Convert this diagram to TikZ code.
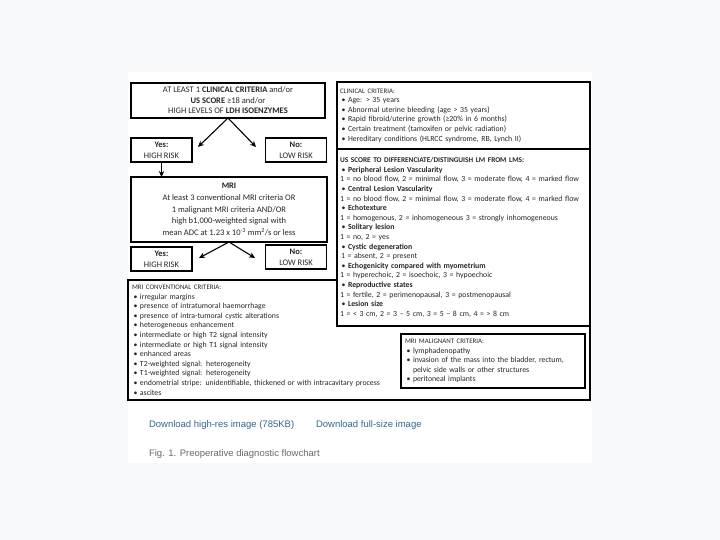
\documentclass[tikz,border=0pt]{standalone}
\usepackage{fontspec}
\setmainfont{Carlito}
\newfontfamily\webfont{Liberation Sans}
\usetikzlibrary{arrows.meta}
\definecolor{linkblue}{HTML}{2F6A8C}
\definecolor{captgray}{HTML}{6A6A6A}
\definecolor{pagegray}{HTML}{F8F9FA}
\newcommand{\itm}{\makebox[8pt][l]{\hspace{1.5pt}\textbullet}}
\newcommand{\hd}[1]{{\fontsize{6.9}{9.6}\selectfont #1}}

\begin{document}
\begin{tikzpicture}[x=1pt,y=-1pt,
  every node/.style={font=\fontsize{7.8}{9.6}\selectfont,text=black!85,outer sep=0pt},
  mainbox/.style={draw,line width=1.3pt,align=center,inner sep=2pt},
  riskbox/.style={draw,line width=1.1pt,minimum width=61pt,minimum height=24pt,align=center,inner sep=1pt,font=\fontsize{8.5}{11}\selectfont},
  listbox/.style={draw,line width=1.5pt,fill=white,align=left,anchor=north west,inner sep=3pt},
  flow/.style={-{Stealth[length=6pt,width=5.5pt]},line width=1.1pt},
  weblink/.style={anchor=base west,inner sep=0pt,text=linkblue,font=\webfont\fontsize{9.5}{11}\selectfont}]
\useasboundingbox (0,0) rectangle (720,540);
\fill[pagegray] (0,0) rectangle (720,540);
\fill[white] (128,72) rectangle (592,463);

\node[mainbox,minimum width=194pt,minimum height=35pt,font=\fontsize{8.5}{10.5}\selectfont] (crit) at (228,100.5)
  {AT LEAST 1 \textbf{CLINICAL CRITERIA} and/or\\ \textbf{US SCORE} ≥18 and/or\\ HIGH LEVELS OF \textbf{LDH ISOENZYMES}};
\node[riskbox] (yes1) at (161.5,150) {\textbf{Yes:}\\ HIGH RISK};
\node[riskbox] (no1) at (296,150) {\textbf{No:}\\ LOW RISK};
\node[mainbox,minimum width=196pt,minimum height=65pt,font=\fontsize{8.5}{11.7}\selectfont] (mri) at (229,209.5)
  {\textbf{MRI}\\ At least 3 conventional MRI criteria OR\\ 1 malignant MRI criteria AND/OR\\ high b1,000-weighted signal with\\ mean ADC at 1.23 x 10\textsuperscript{-3} mm\textsuperscript{2}/s or less};
\node[riskbox] (yes2) at (161.5,259) {\textbf{Yes:}\\ HIGH RISK};
\node[riskbox] (no2) at (296,257) {\textbf{No:}\\ LOW RISK};

\coordinate (yesA) at (198,147);
\coordinate (noA) at (256,147);
\coordinate (yesB) at (199,258);
\coordinate (noB) at (255,258);
\draw[flow] (crit.south) -- (yesA);
\draw[flow] (crit.south) -- (noA);
\draw[flow] (yes1.south) -- (yes1.south |- mri.north);
\draw[flow] (mri.south) -- (yesB);
\draw[flow] (mri.south) -- (noB);

\node[listbox,minimum width=462pt,minimum height=120pt,text width=454pt,inner sep=4pt] (conv) at (128,280)
  {\hd{MRI CONVENTIONAL CRITERIA:}\\
   \itm irregular margins\\
   \itm presence of intratumoral haemorrhage\\
   \itm presence of intra-tumoral cystic alterations\\
   \itm heterogeneous enhancement\\
   \itm intermediate or high T2 signal intensity\\
   \itm intermediate or high T1 signal intensity\\
   \itm enhanced areas\\
   \itm T2-weighted signal: heterogeneity\\
   \itm T1-weighted signal: heterogeneity\\
   \itm endometrial stripe: unidentifiable, thickened or with intracavitary process\\
   \itm ascites};
\node[listbox,line width=1.2pt,minimum width=184pt,minimum height=54pt,text width=176pt,inner sep=4pt] (malig) at (401,334)
  {\hd{MRI MALIGNANT CRITERIA:}\\
   \itm lymphadenopathy\\
   \itm invasion of the mass into the bladder, rectum,\\
   \hspace*{8pt}pelvic side walls or other structures\\
   \itm peritoneal implants};

\node[listbox,minimum width=253pt,minimum height=67pt,text width=247pt] (clin) at (337,82)
  {\hd{CLINICAL CRITERIA:}\\
   \itm Age: > 35 years\\
   \itm Abnormal uterine bleeding (age > 35 years)\\
   \itm Rapid fibroid/uterine growth (≥20\% in 6 months)\\
   \itm Certain treatment (tamoxifen or pelvic radiation)\\
   \itm Hereditary conditions (HLRCC syndrome, RB, Lynch II)};
\node[listbox,minimum width=253pt,minimum height=177pt,text width=247pt] (usscore) at (337,149)
  {{\fontsize{7.3}{9.6}\selectfont\textbf{US SCORE TO DIFFERENCIATE/DISTINGUISH LM FROM LMS:}}\\
   \itm\textbf{Peripheral Lesion Vascularity}\\
   1 = no blood flow, 2 = minimal flow, 3 = moderate flow, 4 = marked flow\\
   \itm\textbf{Central Lesion Vascularity}\\
   1 = no blood flow, 2 = minimal flow, 3 = moderate flow, 4 = marked flow\\
   \itm\textbf{Echotexture}\\
   1 = homogenous, 2 = inhomogeneous 3 = strongly inhomogeneous\\
   \itm\textbf{Solitary lesion}\\
   1 = no, 2 = yes\\
   \itm\textbf{Cystic degeneration}\\
   \hspace*{1pt}1 = absent, 2 = present\\
   \itm\textbf{Echogenicity compared with myometrium}\\
   1 = hyperechoic, 2 = isoechoic, 3 = hypoechoic\\
   \itm\textbf{Reproductive states}\\
   1 = fertile, 2 = perimenopausal, 3 = postmenopausal\\
   \itm\textbf{Lesion size}\\
   1 = < 3 cm, 2 = 3 – 5 cm, 3 = 5 – 8 cm, 4 = > 8 cm};

\node[weblink] (dlhigh) at (149,427) {Download high-res image (785KB)};
\node[weblink] (dlfull) at (316,427) {Download full-size image};
\node[weblink,text=captgray] (figcap) at (149,456) {Fig. 1. Preoperative diagnostic flowchart};
\end{tikzpicture}
\end{document}
